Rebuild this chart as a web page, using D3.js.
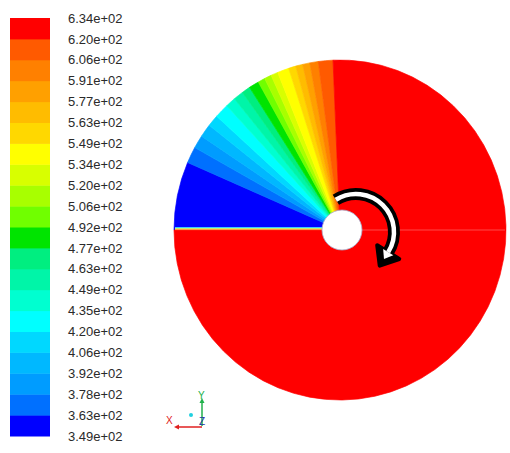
<!DOCTYPE html>
<html>
<head>
<meta charset="utf-8">
<script src="https://cdn.jsdelivr.net/npm/d3@7"></script>
<style>
  body { margin: 0; background: #fff; }
  svg { display: block; }
  text { font-family: "Liberation Sans", Arial, sans-serif; }
</style>
</head>
<body>
<div id="chart"></div>
<script>
// Contour levels (top of colorbar first)
var levelLabels = ["6.34e+02", "6.20e+02", "6.06e+02", "5.91e+02", "5.77e+02", "5.63e+02",
  "5.49e+02", "5.34e+02", "5.20e+02", "5.06e+02", "4.92e+02", "4.77e+02", "4.63e+02",
  "4.49e+02", "4.35e+02", "4.20e+02", "4.06e+02", "3.92e+02", "3.78e+02", "3.63e+02", "3.49e+02"];

// Band colours, lowest level first
var bandColors = ["#0000ff", "#0070ff", "#009cff", "#00b8ff", "#00d8ff", "#00ffff",
  "#00ffd0", "#00f5a8", "#00ee80", "#00e400", "#70ff00", "#a8ff00", "#d8ff00",
  "#ffff00", "#ffd800", "#ffbc00", "#ffa000", "#ff8000", "#ff5a00", "#ff0000"];

// Angle (deg, counter-clockwise from +x) where each band ends, lowest band first.
// Band 0 starts at 180 deg; the last (red) band wraps round to -180.
var bandStart = 180;
var bandEnds = [156.6, 151, 146.5, 142, 138, 133, 129.5, 126, 123, 119.5,
  117, 114.5, 112, 108, 105.5, 103, 100.5, 97.5, 92.4, -180];

// Thin mixed layer just above the cut line
var stripeColors = ["#40c8ff", "#c8ec70", "#ff9a40"];

// Configuration
var width = 510, height = 453;
var disc = { cx: 340, cy: 230, rx: 166, ry: 170 };
var hole = { cx: 342, cy: 230, r: 20 };
var bar = { x: 10, y: 18, w: 40, h: 418 };

var svg = d3.select("#chart").append("svg")
  .attr("width", width)
  .attr("height", height);

// ---- Colorbar ----
var barScale = d3.scaleBand()
  .domain(d3.range(bandColors.length))
  .range([bar.y + bar.h, bar.y])
  .paddingInner(0);

var labelScale = d3.scaleLinear()
  .domain([0, levelLabels.length - 1])
  .range([bar.y, bar.y + bar.h]);

var barG = svg.append("g").attr("id", "colorbar");
barG.selectAll("rect")
  .data(bandColors)
  .enter()
  .append("rect")
  .attr("x", bar.x)
  .attr("y", function(d, i) { return barScale(i); })
  .attr("width", bar.w)
  .attr("height", barScale.bandwidth() + 0.5)
  .attr("fill", function(d) { return d; });

barG.selectAll("text")
  .data(levelLabels)
  .enter()
  .append("text")
  .attr("x", 68)
  .attr("y", function(d, i) { return labelScale(i); })
  .attr("dy", "0.36em")
  .attr("font-size", 13)
  .attr("fill", "#2a2a2a")
  .text(function(d) { return d; });

// ---- Disc contour ----
// math angle (deg) -> d3.arc angle (rad, clockwise from 12 o'clock)
var angleScale = d3.scaleLinear().domain([90, -270]).range([0, 2 * Math.PI]);

var bands = bandColors.map(function(c, i) {
  return { color: c, a0: i === 0 ? bandStart : bandEnds[i - 1], a1: bandEnds[i] };
});

var arc = d3.arc()
  .innerRadius(0)
  .outerRadius(1)
  .startAngle(function(d) { return angleScale(d.a0); })
  .endAngle(function(d) { return angleScale(d.a1); });

var discG = svg.append("g").attr("id", "disc")
  .attr("transform", "translate(" + disc.cx + "," + disc.cy + ") scale(" + disc.rx + "," + disc.ry + ")");

discG.selectAll("path")
  .data(bands)
  .enter()
  .append("path")
  .attr("d", arc)
  .attr("fill", function(d) { return d.color; })
  .attr("stroke", function(d) { return d.color; })
  .attr("stroke-width", 0.004);

// mixed layer stripe above the cut
var stripeG = svg.append("g").attr("id", "stripe");
stripeG.selectAll("rect")
  .data(stripeColors)
  .enter()
  .append("rect")
  .attr("x", disc.cx - disc.rx + 1)
  .attr("y", function(d, i) { return disc.cy - 3 + i; })
  .attr("width", hole.cx - (disc.cx - disc.rx) - 10)
  .attr("height", 1.1)
  .attr("fill", function(d) { return d; });

// faint cut line on the right
svg.append("line")
  .attr("x1", hole.cx + hole.r)
  .attr("x2", disc.cx + disc.rx - 1)
  .attr("y1", disc.cy)
  .attr("y2", disc.cy)
  .attr("stroke", "#ff4848")
  .attr("stroke-width", 1);

// hole
svg.append("circle")
  .attr("cx", hole.cx)
  .attr("cy", hole.cy)
  .attr("r", hole.r)
  .attr("fill", "#fff")
  .attr("stroke", "#a8a8c8")
  .attr("stroke-width", 0.8);

// ---- Rotation arrow ----
var arrow = { cx: 356, cy: 232, r: 38, from: 122, to: -32 };
var rot = d3.scaleLinear().domain([90, -270]).range([0, 2 * Math.PI]);
var arrowArc = d3.arc()
  .innerRadius(arrow.r)
  .outerRadius(arrow.r)
  .startAngle(rot(arrow.from))
  .endAngle(rot(arrow.to));

var arrowG = svg.append("g").attr("id", "arrow")
  .attr("transform", "translate(" + arrow.cx + "," + arrow.cy + ")");

var endRad = arrow.to * Math.PI / 180;
var tip = [arrow.r * Math.cos(endRad), -arrow.r * Math.sin(endRad)];
var tang = [Math.sin(endRad), Math.cos(endRad)]; // clockwise direction
var norm = [Math.cos(endRad), -Math.sin(endRad)];
function headPts(len, half) {
  var p = tip;
  var a = [p[0] + norm[0] * half, p[1] + norm[1] * half];
  var b = [p[0] - norm[0] * half, p[1] - norm[1] * half];
  var t = [p[0] + tang[0] * len, p[1] + tang[1] * len];
  return [a, t, b].map(function(q) { return q.join(","); }).join(" ");
}

arrowG.append("path")
  .attr("d", arrowArc)
  .attr("fill", "none")
  .attr("stroke", "#000")
  .attr("stroke-width", 12)
  .attr("stroke-linecap", "round");
arrowG.append("polygon")
  .attr("points", headPts(16, 13))
  .attr("fill", "#000")
  .attr("stroke", "#000")
  .attr("stroke-width", 4)
  .attr("stroke-linejoin", "round");
arrowG.append("path")
  .attr("d", arrowArc)
  .attr("fill", "none")
  .attr("stroke", "#fff")
  .attr("stroke-width", 4.5)
  .attr("stroke-linecap", "round");
arrowG.append("polygon")
  .attr("points", headPts(8, 6))
  .attr("fill", "#fff");

// ---- Axis triad ----
var triad = svg.append("g").attr("id", "triad");
triad.append("line")
  .attr("x1", 202).attr("y1", 426).attr("x2", 202).attr("y2", 400)
  .attr("stroke", "#22b14c").attr("stroke-width", 1.5);
triad.append("line")
  .attr("x1", 202).attr("y1", 427).attr("x2", 176).attr("y2", 427)
  .attr("stroke", "#e02020").attr("stroke-width", 1.5);
triad.append("path")
  .attr("d", "M174,427 L179,424.5 L179,429.5 Z")
  .attr("fill", "#e02020");
triad.append("path")
  .attr("d", "M202,398 L199.5,403 L204.5,403 Z")
  .attr("fill", "#22b14c");
triad.append("circle")
  .attr("cx", 191).attr("cy", 415).attr("r", 2)
  .attr("fill", "#20d0e0");
triad.append("text").attr("x", 198).attr("y", 399).attr("font-size", 10)
  .attr("fill", "#22b14c").text("Y");
triad.append("text").attr("x", 166).attr("y", 424).attr("font-size", 10)
  .attr("fill", "#e02020").text("X");
triad.append("text").attr("x", 199).attr("y", 425).attr("font-size", 10)
  .attr("fill", "#2030a0").text("Z");
</script>
</body>
</html>
